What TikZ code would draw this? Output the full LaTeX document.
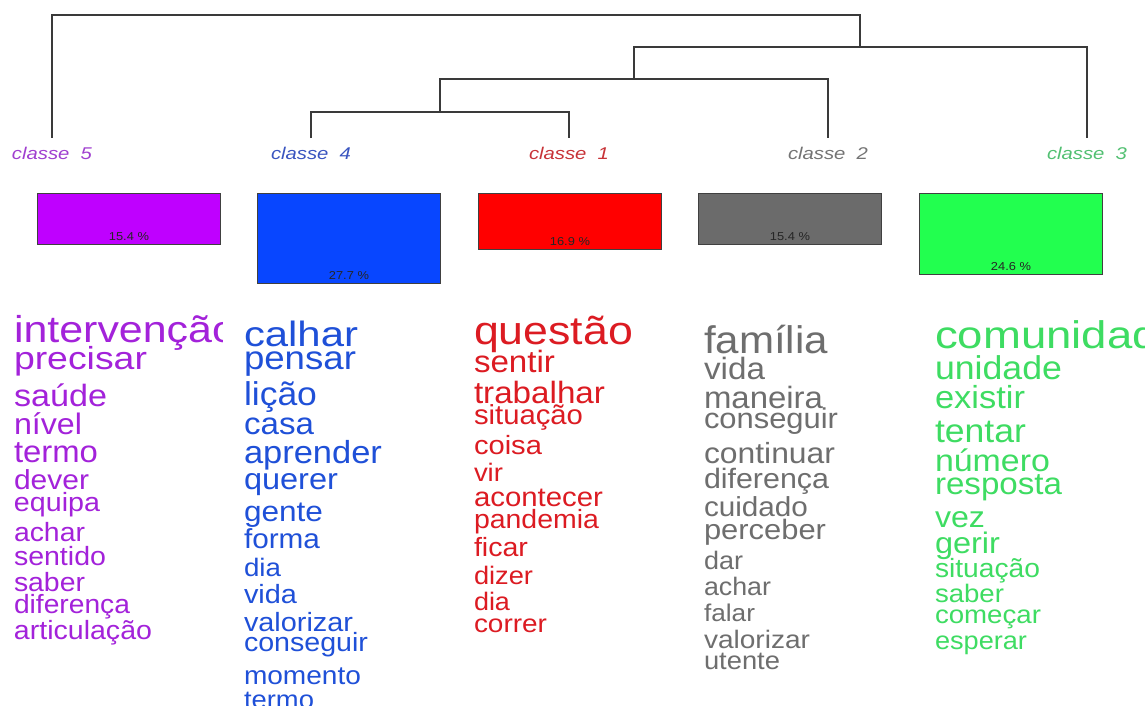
\documentclass[tikz,border=0pt]{standalone}
\usepackage{fontspec}
\setmainfont{Liberation Sans}
\usepackage{graphicx}
\definecolor{wPur}{HTML}{A322DA}
\definecolor{wBlu}{HTML}{1F50D8}
\definecolor{wRed}{HTML}{DC1B22}
\definecolor{wGry}{HTML}{6E6E6E}
\definecolor{wGrn}{HTML}{3EDC62}
\definecolor{lPur}{HTML}{A040D0}
\definecolor{lBlu}{HTML}{3A55C0}
\definecolor{lRed}{HTML}{C83338}
\definecolor{lGry}{HTML}{747474}
\definecolor{lGrn}{HTML}{52C072}
\definecolor{bPur}{HTML}{BF00FF}
\definecolor{bBlu}{HTML}{0846FF}
\definecolor{bRed}{HTML}{FF0000}
\definecolor{bGry}{HTML}{6B6B6B}
\definecolor{bGrn}{HTML}{22FF4F}
\definecolor{treeC}{HTML}{3A3A3A}
\tikzset{
  word/.style={anchor=base west, inner sep=0pt, outer sep=0pt},
  clab/.style={anchor=base, inner sep=0pt, outer sep=0pt},
  tree/.style={draw=treeC, line width=1.2pt},
  barbox/.style={draw=black!75, line width=0.9pt, anchor=north west, inner sep=0pt, minimum width=183pt},
  pct/.style={anchor=base, inner sep=0pt, text=black!85},
}
\newcommand\fsz[1]{\fontsize{\fpeval{#1*1.1}}{\fpeval{#1*1.1}}\selectfont}
\newcommand\wrd[7]{\node[word,text=#2] (#1) at (#3,#4) {\resizebox{#6pt}{\height}{\fsz{#5}#7}};}
\newcommand\clabel[5]{\node[clab,text=#2] (#1) at (#3,159) {\resizebox{80pt}{\height}{\fontsize{17}{17}\selectfont\itshape classe\ \ #4}};\coordinate (#1t) at (#3,138);}
\newcommand\pctlab[3]{\node[pct] (#1) at ([yshift=4.5pt]#2.south) {\resizebox{40pt}{\height}{\fontsize{11.5}{11.5}\selectfont #3}};}
\begin{document}
\begin{tikzpicture}[x=1pt,y=-1pt]
\useasboundingbox (0,0) rectangle (1145,706);
\fill[white] (0,0) rectangle (1145,706);
\clip (0,0) rectangle (1145,706);
% class labels
\clabel{c5}{lPur}{52}{5}{}
\clabel{c4}{lBlu}{311}{4}{}
\clabel{c1}{lRed}{569}{1}{}
\clabel{c2}{lGry}{828}{2}{}
\clabel{c3}{lGrn}{1087}{3}{}
% dendrogram
\coordinate (m41) at (440,112);
\coordinate (m412) at (634,79);
\coordinate (m4123) at (860,47);
\draw[tree] (c4t) -- (c4t |- m41) -- (c1t |- m41) -- (c1t);
\draw[tree] (m41) -- (m41 |- m412) -- (c2t |- m412) -- (c2t);
\draw[tree] (m412) -- (m412 |- m4123) -- (c3t |- m4123) -- (c3t);
\draw[tree] (m4123) -- (m4123 |- 0,15) -- (c5t |- 0,15) -- (c5t);
% bars
\node[barbox,fill=bPur,minimum height=51pt] (b5) at (37,193) {};
\node[barbox,fill=bBlu,minimum height=90pt] (b4) at (257,193) {};
\node[barbox,fill=bRed,minimum height=56pt] (b1) at (478,193) {};
\node[barbox,fill=bGry,minimum height=51pt] (b2) at (698,193) {};
\node[barbox,fill=bGrn,minimum height=81pt] (b3) at (919,193) {};
\pctlab{p5}{b5}{15.4 \%}
\pctlab{p4}{b4}{27.7 \%}
\pctlab{p1}{b1}{16.9 \%}
\pctlab{p2}{b2}{15.4 \%}
\pctlab{p3}{b3}{24.6 \%}
% class 5 words
\begin{scope}
\clip (0,300) rectangle (222,360);
\wrd{a1}{wPur}{14}{342}{34}{222}{intervenção}
\end{scope}
\wrd{a2}{wPur}{14}{369}{29}{133}{precisar}
\wrd{a3}{wPur}{14}{406}{28}{93}{saúde}
\wrd{a4}{wPur}{14}{434}{27}{68}{nível}
\wrd{a5}{wPur}{14}{462}{28}{84}{termo}
\wrd{a6}{wPur}{14}{489}{25}{75}{dever}
\wrd{a7}{wPur}{14}{511}{24}{86}{equipa}
\wrd{a8}{wPur}{14}{541}{24}{71}{achar}
\wrd{a9}{wPur}{14}{565}{24}{92}{sentido}
\wrd{a10}{wPur}{14}{591}{24}{71}{saber}
\wrd{a11}{wPur}{14}{613}{24}{116}{diferença}
\wrd{a12}{wPur}{14}{639}{24}{138}{articulação}
% class 4 words
\wrd{d1}{wBlu}{244}{346}{32}{114}{calhar}
\wrd{d2}{wBlu}{244}{369}{30}{112}{pensar}
\wrd{d3}{wBlu}{244}{405}{30}{73}{lição}
\wrd{d4}{wBlu}{244}{434}{28}{70}{casa}
\wrd{d5}{wBlu}{244}{463}{29}{138}{aprender}
\wrd{d6}{wBlu}{244}{489}{27}{94}{querer}
\wrd{d7}{wBlu}{244}{521}{26}{79}{gente}
\wrd{d8}{wBlu}{244}{548}{25}{76}{forma}
\wrd{d9}{wBlu}{244}{576}{23}{37}{dia}
\wrd{d10}{wBlu}{244}{603}{24}{53}{vida}
\wrd{d11}{wBlu}{244}{631}{24}{109}{valorizar}
\wrd{d12}{wBlu}{244}{651}{24}{124}{conseguir}
\wrd{d13}{wBlu}{244}{684}{23.5}{117}{momento}
\wrd{d14}{wBlu}{244}{708}{23}{70}{termo}
% class 1 words
\wrd{r1}{wRed}{474}{344}{36}{159}{questão}
\wrd{r2}{wRed}{474}{372}{28}{81}{sentir}
\wrd{r3}{wRed}{474}{403}{28}{131}{trabalhar}
\wrd{r4}{wRed}{474}{424}{25}{109}{situação}
\wrd{r5}{wRed}{474}{454}{24}{68}{coisa}
\wrd{r6}{wRed}{474}{481}{23}{29}{vir}
\wrd{r7}{wRed}{474}{506}{24.5}{129}{acontecer}
\wrd{r8}{wRed}{474}{528}{24}{125}{pandemia}
\wrd{r9}{wRed}{474}{556}{24}{54}{ficar}
\wrd{r10}{wRed}{474}{584}{23}{59}{dizer}
\wrd{r11}{wRed}{474}{610}{23}{36}{dia}
\wrd{r12}{wRed}{474}{632}{23}{73}{correr}
% class 2 words
\wrd{g1}{wGry}{704}{353}{35}{124}{família}
\wrd{g2}{wGry}{704}{379}{28}{61}{vida}
\wrd{g3}{wGry}{704}{408}{28}{119}{maneira}
\wrd{g4}{wGry}{704}{428}{26}{134}{conseguir}
\wrd{g5}{wGry}{704}{463}{26.5}{131}{continuar}
\wrd{g6}{wGry}{704}{488}{25.5}{125}{diferença}
\wrd{g7}{wGry}{704}{516}{25}{104}{cuidado}
\wrd{g8}{wGry}{704}{539}{25.5}{122}{perceber}
\wrd{g9}{wGry}{704}{569}{23}{39}{dar}
\wrd{g10}{wGry}{704}{595}{23}{67}{achar}
\wrd{g11}{wGry}{704}{621}{22}{51}{falar}
\wrd{g12}{wGry}{704}{648}{23}{106}{valorizar}
\wrd{g13}{wGry}{704}{669}{23}{76}{utente}
% class 3 words
\wrd{e1}{wGrn}{935}{348}{35}{248}{comunidade}
\wrd{e2}{wGrn}{935}{379}{30}{127}{unidade}
\wrd{e3}{wGrn}{935}{408}{29}{90}{existir}
\wrd{e4}{wGrn}{935}{442}{30}{91}{tentar}
\wrd{e5}{wGrn}{935}{471}{28}{115}{número}
\wrd{e6}{wGrn}{935}{494}{28}{127}{resposta}
\wrd{e7}{wGrn}{935}{527}{27}{50}{vez}
\wrd{e8}{wGrn}{935}{553}{27}{65}{gerir}
\wrd{e9}{wGrn}{935}{577}{24}{105}{situação}
\wrd{e10}{wGrn}{935}{602}{23}{69}{saber}
\wrd{e11}{wGrn}{935}{623}{23}{106}{começar}
\wrd{e12}{wGrn}{935}{649}{23}{92}{esperar}
\end{tikzpicture}
\end{document}
